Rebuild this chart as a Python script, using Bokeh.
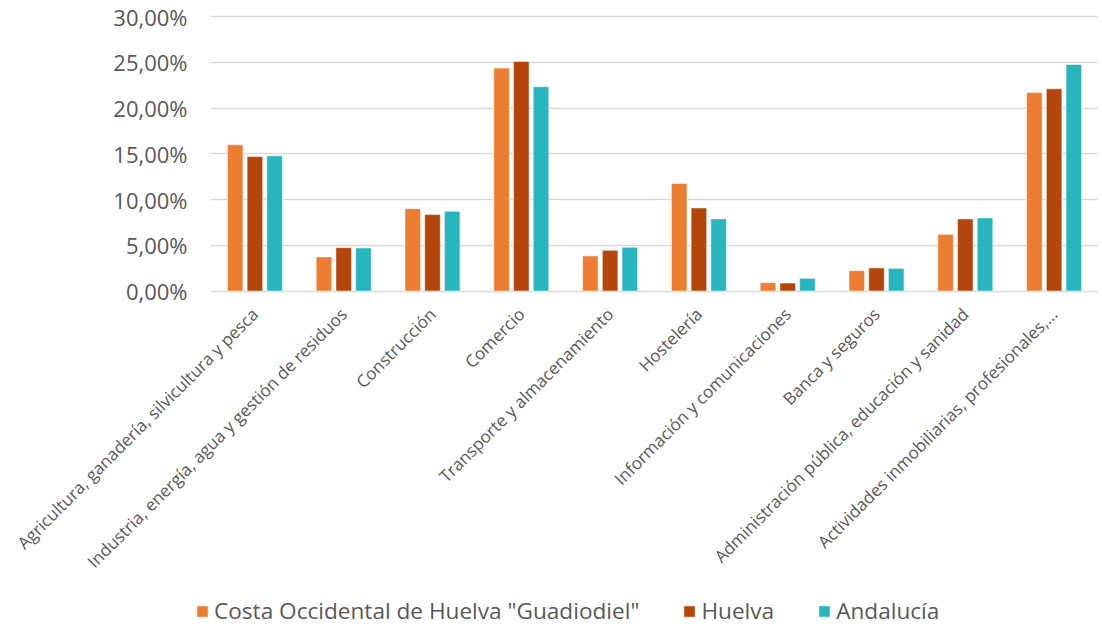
import math
from bokeh.plotting import figure
from bokeh.models import (ColumnDataSource, Range1d, Legend, LegendItem,
                          CustomJSTickFormatter, FixedTicker)
from bokeh.transform import dodge
from bokeh.embed import file_html
from bokeh.resources import INLINE

categories = [
    "Agricultura, ganadería, silvicultura y pesca",
    "Industria, energía, agua y gestión de residuos",
    "Construcción",
    "Comercio",
    "Transporte y almacenamiento",
    "Hostelería",
    "Información y comunicaciones",
    "Banca y seguros",
    "Administración pública, educación y sanidad",
    "Actividades inmobiliarias, profesionales,...",
]
costa = [15.97, 3.72, 9.00, 24.36, 3.83, 11.74, 0.91, 2.22, 6.19, 21.70]
huelva = [14.69, 4.74, 8.35, 25.09, 4.44, 9.08, 0.87, 2.52, 7.88, 22.10]
andalucia = [14.77, 4.70, 8.71, 22.32, 4.77, 7.88, 1.38, 2.47, 7.99, 24.76]
series_names = ['Costa Occidental de Huelva "Guadiodiel"', "Huelva", "Andalucía"]
y_ticks = [0, 5, 10, 15, 20, 25, 30]

colors = ["#ED7D31", "#B5460B", "#27B6BE"]
FONT = "Open Sans"
TXT = "#595959"

# category positions 1..N on a numeric axis; the frame extends left, up and down
# so that the rotated labels, tick labels and the legend sit inside it (no clipping)
xpos = list(range(1, len(categories) + 1))
N = len(categories)
PLOT_W = 888           # pixel width of the category area
PX_X = PLOT_W / N
X_START = 0.5 - 200 / PX_X
PX_Y = 274.5 / 30.0
Y_MAX = 30 + 16 / PX_Y
Y_MIN = -336.5 / PX_Y

src = ColumnDataSource(dict(x=xpos, costa=costa, huelva=huelva, andalucia=andalucia))

p = figure(x_range=Range1d(X_START, N + 0.5), y_range=Range1d(Y_MIN, Y_MAX),
           frame_width=1088, frame_height=627, output_backend="svg", toolbar_location=None,
           min_border_left=10, min_border_right=0, min_border_top=0, min_border_bottom=0)
p.outline_line_color = None

renderers = []
for field, off, col in zip(["costa", "huelva", "andalucia"], [-0.222, 0.0, 0.222], colors):
    r = p.vbar(x=dodge("x", off), top=field, bottom=0, width=0.175, source=src,
               fill_color=col, line_color="white", line_alpha=0.5, line_width=1)
    renderers.append(r)

# y axis
p.yaxis.fixed_location = 0.5
p.yaxis.ticker = FixedTicker(ticks=y_ticks)
p.yaxis.formatter = CustomJSTickFormatter(code="return tick.toFixed(2).replace('.', ',') + '%';")
p.yaxis.axis_line_color = None
p.yaxis.major_tick_line_color = None
p.yaxis.minor_tick_line_color = None
p.yaxis.major_label_standoff = 17
p.yaxis.major_label_text_font = FONT
p.yaxis.major_label_text_font_size = "22px"
p.yaxis.major_label_text_color = TXT

# x axis
p.xaxis.fixed_location = 0
p.xaxis.ticker = FixedTicker(ticks=xpos)
p.xaxis.major_label_overrides = {x: c for x, c in zip(xpos, categories)}
p.xaxis.axis_line_color = None
p.xaxis.major_tick_line_color = None
p.xaxis.minor_tick_line_color = None
p.xaxis.major_label_orientation = math.pi / 4
p.xaxis.major_label_standoff = 14
p.xaxis.major_label_text_font = FONT
p.xaxis.major_label_text_font_size = "17px"
p.xaxis.major_label_text_color = TXT

# grid lines only across the category area
p.xgrid.grid_line_color = None
grid = p.ygrid[0]
if "cross_bounds" in grid.properties():
    grid.cross_bounds = (0.5, N + 0.5)
    grid.grid_line_color = "#D9D9D9"
    grid.grid_line_width = 1.5
    grid.level = "underlay"
else:
    grid.grid_line_color = None
    p.segment(x0=[0.5] * len(y_ticks), x1=[N + 0.5] * len(y_ticks), y0=y_ticks, y1=y_ticks,
              line_color="#D9D9D9", line_width=1.5, level="underlay")

legend = Legend(items=[LegendItem(label=n, renderers=[r]) for n, r in zip(series_names, renderers)],
                orientation="horizontal", location=(185, 1))
legend.border_line_color = None
legend.background_fill_alpha = 0
legend.label_text_font = FONT
legend.label_text_font_size = "22.6px"
legend.label_text_color = TXT
legend.glyph_width = 14
legend.glyph_height = 14
legend.label_standoff = 5
legend.spacing = 43
legend.padding = 0
legend.margin = 0
p.add_layout(legend, "center")

open("out.html", "w").write(file_html(p, INLINE))
